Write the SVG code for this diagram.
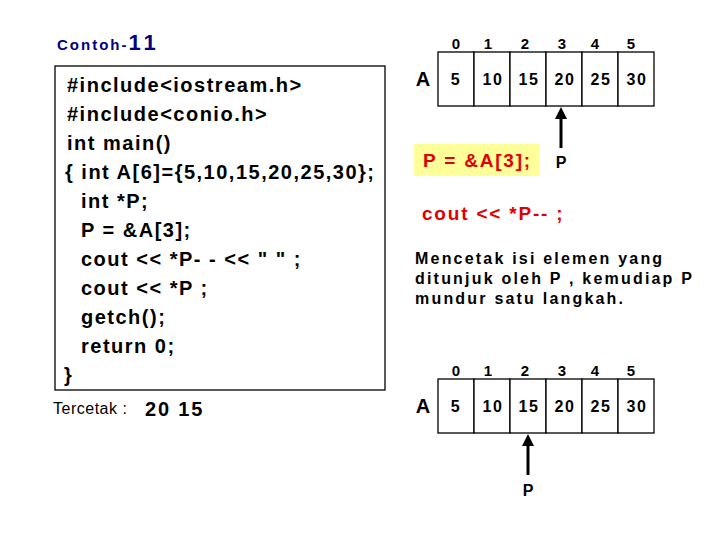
<svg xmlns="http://www.w3.org/2000/svg" width="720" height="540" viewBox="0 0 720 540">
<style>
text{font-family:"Liberation Sans",Arial,sans-serif;font-weight:bold;fill:#000}
.code{font-size:20px;letter-spacing:1.5px}
.idx{font-size:15px;text-anchor:middle}
.val{font-size:16px;text-anchor:middle;letter-spacing:1.5px}
.red{fill:#e00000;font-size:19px;letter-spacing:1.8px}
.desc{font-size:16px;letter-spacing:2.2px}
.cell{fill:#fff;stroke:#000;stroke-width:1.3}
.arr{stroke:#000;stroke-width:3;fill:none}
</style>
<defs>
<marker id="ah" markerWidth="4" markerHeight="4" refX="2" refY="2" orient="auto" markerUnits="strokeWidth">
<path d="M0,0 L4,2 L0,4 Z" fill="#000"/>
</marker>
</defs>
<rect width="720" height="540" fill="#fff"/>
<g id="title">
<text x="57" y="50" style="fill:#000080;font-size:15px;letter-spacing:2px">Contoh-<tspan style="font-size:22px;letter-spacing:4px">11</tspan></text>
</g>
<g id="code">
<rect x="55" y="66" width="330" height="324" fill="#fff" stroke="#000" stroke-width="1.3"/>
<text class="code" x="67" y="92">#include&lt;iostream.h&gt;</text>
<text class="code" x="67" y="121">#include&lt;conio.h&gt;</text>
<text class="code" x="67" y="150">int main()</text>
<text class="code" x="65" y="179">{ int A[6]={5,10,15,20,25,30};</text>
<text class="code" x="81" y="208">int *P;</text>
<text class="code" x="81" y="237">P = &amp;A[3];</text>
<text class="code" x="81" y="266">cout &lt;&lt; *P- - &lt;&lt; " " ;</text>
<text class="code" x="81" y="295">cout &lt;&lt; *P ;</text>
<text class="code" x="81" y="324">getch();</text>
<text class="code" x="81" y="353">return 0;</text>
<text class="code" x="64" y="382">}</text>
</g>
<g id="output">
<text x="53" y="414" style="font-weight:normal;font-size:16px;letter-spacing:0.5px">Tercetak :</text>
<text x="145" y="416" style="font-size:20px;letter-spacing:1.8px">20 15</text>
</g>
<g id="array1">
<text x="423" y="86" text-anchor="middle" style="font-size:20px">A</text>
<rect class="cell" x="438" y="52" width="36" height="54"/>
<rect class="cell" x="474" y="52" width="36" height="54"/>
<rect class="cell" x="510" y="52" width="36" height="54"/>
<rect class="cell" x="546" y="52" width="36" height="54"/>
<rect class="cell" x="582" y="52" width="36" height="54"/>
<rect class="cell" x="618" y="52" width="36" height="54"/>
<text class="idx" x="456" y="49">0</text>
<text class="idx" x="488" y="49">1</text>
<text class="idx" x="525" y="49">2</text>
<text class="idx" x="562" y="49">3</text>
<text class="idx" x="595" y="49">4</text>
<text class="idx" x="631" y="49">5</text>
<text class="val" x="456" y="85">5</text>
<text class="val" x="493" y="85">10</text>
<text class="val" x="529" y="85">15</text>
<text class="val" x="565" y="85">20</text>
<text class="val" x="601" y="85">25</text>
<text class="val" x="637" y="85">30</text>
</g>
<g id="stmt1">
<rect x="414" y="144" width="125" height="32" fill="#ffff99"/>
<text class="red" x="423" y="167">P = &amp;A[3];</text>
</g>
<g id="p1">
<text x="561" y="168" text-anchor="middle" style="font-size:16px">P</text>
</g>
<g id="stmt2">
<text class="red" x="422" y="220">cout &lt;&lt; *P-- ;</text>
</g>
<g id="desc">
<text class="desc" x="415" y="264">Mencetak isi elemen yang</text>
<text class="desc" x="415" y="284">ditunjuk oleh P , kemudiap P</text>
<text class="desc" x="415" y="304">mundur satu langkah.</text>
</g>
<g id="array2">
<text x="423" y="413" text-anchor="middle" style="font-size:20px">A</text>
<rect class="cell" x="438" y="379" width="36" height="54"/>
<rect class="cell" x="474" y="379" width="36" height="54"/>
<rect class="cell" x="510" y="379" width="36" height="54"/>
<rect class="cell" x="546" y="379" width="36" height="54"/>
<rect class="cell" x="582" y="379" width="36" height="54"/>
<rect class="cell" x="618" y="379" width="36" height="54"/>
<text class="idx" x="456" y="376">0</text>
<text class="idx" x="488" y="376">1</text>
<text class="idx" x="525" y="376">2</text>
<text class="idx" x="562" y="376">3</text>
<text class="idx" x="595" y="376">4</text>
<text class="idx" x="631" y="376">5</text>
<text class="val" x="456" y="412">5</text>
<text class="val" x="493" y="412">10</text>
<text class="val" x="529" y="412">15</text>
<text class="val" x="565" y="412">20</text>
<text class="val" x="601" y="412">25</text>
<text class="val" x="637" y="412">30</text>
</g>
<g id="p2">
<text x="528" y="496" text-anchor="middle" style="font-size:16px">P</text>
</g>
<g id="connectors">
<line class="arr" x1="561" y1="148" x2="561" y2="113" marker-end="url(#ah)"/>
<line class="arr" x1="528" y1="475" x2="528" y2="440" marker-end="url(#ah)"/>
</g>
</svg>
